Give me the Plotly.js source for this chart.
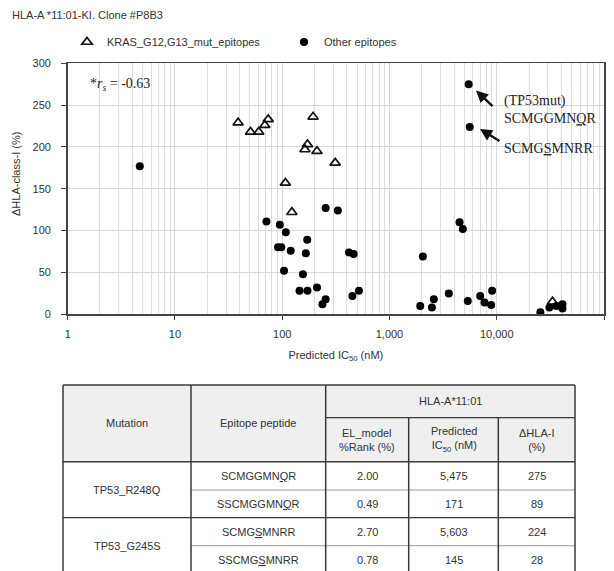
<!DOCTYPE html>
<html>
<head>
<meta charset="utf-8">
<script src="https://cdn.plot.ly/plotly-3.0.1.min.js"></script>
<style>html,body{margin:0;padding:0;background:#fff;}</style>
</head>
<body>
<div id="chart" style="width:614px;height:571px;"></div>
<script>
// ---------- DATA ----------
const krasIC50 = [38.8, 50.6, 60.4, 68.8, 74, 194, 172, 163, 211, 312, 107, 123, 33100];
const krasDelta = [229, 218, 218, 226, 233, 236, 203, 197, 195, 181, 157, 122, 15];

const otherIC50 = [4.7, 71.3, 95, 108, 91.4, 98, 120, 171, 166, 104, 156, 145, 172, 211, 254, 237,
  254, 330, 419, 463, 451, 519, 2047, 1936, 2484, 2590, 3575, 4500, 4830, 5475, 5603, 5370,
  7010, 7690, 9060, 8870, 25500, 31000, 36000, 41000, 41000];
const otherDelta = [177, 111, 107, 98, 80, 80, 76, 89, 73, 52, 48, 28, 28, 32, 18, 12,
  127, 124, 74, 72, 22, 28, 69, 10, 8, 18, 25, 110, 102, 275, 224, 16,
  22, 14, 28, 11, 2.4, 8, 10, 12, 7];

const xTickVals = [1, 10, 100, 1000, 10000, 100000];
const xTickText = ['1', '10', '100', '1,000', '10,000', '100,000'];
const yTickVals = [0, 50, 100, 150, 200, 250, 300];

const seriesNames = ['KRAS_G12,G13_mut_epitopes', 'Other epitopes'];

// table
const tableHeaders = ['Mutation', 'Epitope peptide', 'HLA-A*11:01'];
const subHeaders = ['EL_model<br>%Rank (%)', 'Predicted<br>IC<sub>50</sub> (nM)', '\u0394HLA-I<br>(%)'];
const mutations = ['TP53_R248Q', 'TP53_G245S'];
const peptides = ['SCMGGMN<u>Q</u>R', 'SSCMGGMN<u>Q</u>R', 'SCMG<u>S</u>MNRR', 'SSCMG<u>S</u>MNRR'];
const elRanks = [2.00, 0.49, 2.70, 0.78];
const tableIC50 = [5475, 171, 5603, 145];
const tableDelta = [275, 89, 224, 28];

// ---------- LAYOUT HELPERS ----------
const W = 614, H = 571;
const px = v => v / W;
const py = v => 1 - v / H;
const plotL = 67.7, plotR = 604, plotT = 63.3, plotB = 314.3;

const sans = 'Liberation Sans, Arial, sans-serif';
const serif = 'Liberation Serif, Times New Roman, serif';
const txt = '#333';

const traces = [
  {
    x: krasIC50, y: krasDelta, type: 'scatter', mode: 'markers', name: seriesNames[0],
    marker: {symbol: 'triangle-up-open', size: 9, color: '#111', line: {width: 1.7, color: '#111'}},
    cliponaxis: false
  },
  {
    x: otherIC50, y: otherDelta, type: 'scatter', mode: 'markers', name: seriesNames[1],
    marker: {symbol: 'circle', size: 8, color: '#000'},
    cliponaxis: false
  }
];

// minor grid values
const minorVals = [];
for (let d = 0; d < 5; d++) for (let k = 2; k <= 9; k++) minorVals.push(k * Math.pow(10, d));

const shapes = [];
const annotations = [];

// ---------- TABLE ----------
const colEdges = [63, 191, 325.7, 408.7, 498.3, 575];
const rowEdges = [385, 417.7, 461.7, 490, 517.7, 545.7, 573.5];
const dark = '#3a3a3a', light = '#9a9a9a';
function line(x0, y0, x1, y1, color, w) {
  shapes.push({type: 'line', xref: 'paper', yref: 'paper', x0: px(x0), y0: py(y0), x1: px(x1), y1: py(y1),
    line: {color: color, width: w}});
}
shapes.push({type: 'rect', xref: 'paper', yref: 'paper', x0: px(colEdges[0]), x1: px(colEdges[5]),
  y0: py(rowEdges[0]), y1: py(rowEdges[2]), fillcolor: '#efefef', line: {width: 0}, layer: 'below'});
// horizontal
line(colEdges[0], rowEdges[0], colEdges[5], rowEdges[0], dark, 1.5);
line(colEdges[2], rowEdges[1], colEdges[5], rowEdges[1], dark, 1.3);
line(colEdges[0], rowEdges[2], colEdges[5], rowEdges[2], dark, 1.5);
line(colEdges[1], rowEdges[3], colEdges[5], rowEdges[3], light, 1);
line(colEdges[0], rowEdges[4], colEdges[5], rowEdges[4], dark, 1.3);
line(colEdges[1], rowEdges[5], colEdges[5], rowEdges[5], light, 1);
// vertical
line(colEdges[0], rowEdges[0], colEdges[0], H + 5, dark, 1.5);
line(colEdges[1], rowEdges[0], colEdges[1], H + 5, dark, 1.5);
line(colEdges[2], rowEdges[0], colEdges[2], H + 5, dark, 1.5);
line(colEdges[3], rowEdges[1], colEdges[3], H + 5, dark, 1.5);
line(colEdges[4], rowEdges[1], colEdges[4], H + 5, dark, 1.5);
line(colEdges[5], rowEdges[0], colEdges[5], H + 5, dark, 1.5);

function cellText(text, cx, cy) {
  annotations.push({xref: 'paper', yref: 'paper', x: px(cx), y: py(cy), text: text, showarrow: false,
    xanchor: 'center', yanchor: 'middle', font: {family: sans, size: 11, color: txt}});
}
const mid = (a, b) => (a + b) / 2;
cellText(tableHeaders[0], mid(colEdges[0], colEdges[1]), mid(rowEdges[0], rowEdges[2]));
cellText(tableHeaders[1], mid(colEdges[1], colEdges[2]), mid(rowEdges[0], rowEdges[2]));
cellText(tableHeaders[2], mid(colEdges[2], colEdges[5]), mid(rowEdges[0], rowEdges[1]));
for (let j = 0; j < 3; j++) cellText(subHeaders[j], mid(colEdges[2 + j], colEdges[3 + j]), mid(rowEdges[1], rowEdges[2]));
for (let g = 0; g < mutations.length; g++) {
  cellText(mutations[g], mid(colEdges[0], colEdges[1]), mid(rowEdges[2 + 2 * g], rowEdges[4 + 2 * g]));
}
for (let i = 0; i < peptides.length; i++) {
  const cy = mid(rowEdges[2 + i], rowEdges[3 + i]);
  cellText(peptides[i], mid(colEdges[1], colEdges[2]), cy);
  cellText(elRanks[i].toFixed(2), mid(colEdges[2], colEdges[3]), cy);
  cellText(tableIC50[i].toLocaleString('en-US'), mid(colEdges[3], colEdges[4]), cy);
  cellText(String(tableDelta[i]), mid(colEdges[4], colEdges[5]), cy);
}

// ---------- CHART ANNOTATIONS ----------
annotations.push({xref: 'paper', yref: 'paper', x: px(88), y: py(84), xanchor: 'left', yanchor: 'middle',
  text: '*<i>r</i><sub><i>s</i></sub> = -0.63', showarrow: false, font: {family: serif, size: 14, color: '#222'}});
annotations.push({xref: 'paper', yref: 'paper', x: px(502), y: py(110), xanchor: 'left', yanchor: 'middle',
  text: '(TP53mut)<br>SCMGGMN<u>Q</u>R', showarrow: false, align: 'left',
  font: {family: serif, size: 14, color: '#222'}});
annotations.push({xref: 'paper', yref: 'paper', x: px(502), y: py(148), xanchor: 'left', yanchor: 'middle',
  text: 'SCMG<u>S</u>MNRR', showarrow: false, font: {family: serif, size: 14, color: '#222'}});
// arrows
annotations.push({xref: 'paper', yref: 'paper', x: px(476), y: py(90.5), ax: 18, ay: 17, text: '',
  showarrow: true, arrowhead: 2, arrowsize: 1, arrowwidth: 2.4, arrowcolor: '#111'});
annotations.push({xref: 'paper', yref: 'paper', x: px(480), y: py(129), ax: 21, ay: 13, text: '',
  showarrow: true, arrowhead: 2, arrowsize: 1, arrowwidth: 2.4, arrowcolor: '#111'});
// y title
annotations.push({xref: 'paper', yref: 'paper', x: px(16), y: py(174), xanchor: 'center', yanchor: 'middle',
  text: '\u0394HLA-class-I (%)', textangle: -90, showarrow: false, font: {family: sans, size: 11, color: txt}});

const layout = {
  width: W, height: H, autosize: false,
  margin: {l: 0, r: 0, t: 0, b: 0, pad: 0},
  paper_bgcolor: '#fff', plot_bgcolor: '#fff',
  font: {family: sans, size: 11, color: txt},
  title: {text: 'HLA-A *11:01-KI. Clone #P8B3', x: px(12), xanchor: 'left', y: py(15), yanchor: 'middle',
    font: {family: sans, size: 11, color: txt}},
  showlegend: true,
  legend: {orientation: 'h', x: px(67), xanchor: 'left', y: py(42), yanchor: 'middle',
    font: {family: sans, size: 11, color: txt}, bgcolor: 'rgba(0,0,0,0)', borderwidth: 0,
    itemwidth: 30, entrywidth: 172, tracegroupgap: 0},
  xaxis: {
    type: 'log', range: [0, 5], domain: [px(plotL), px(plotR)], anchor: 'y',
    tickvals: xTickVals, ticktext: xTickText, ticks: 'outside', ticklen: 4, tickcolor: '#444',
    showgrid: true, gridcolor: '#d6d6d6', gridwidth: 1,
    minor: {tickvals: minorVals, showgrid: true, gridcolor: '#dcdcdc', gridwidth: 1, ticks: ''},
    showline: true, linecolor: '#444', linewidth: 1.6, mirror: true, zeroline: false,
    ticklabelstandoff: 5, tickfont: {family: sans, size: 11, color: txt},
    title: {text: 'Predicted IC<sub>50</sub> (nM)', standoff: 12, font: {family: sans, size: 11, color: txt}}
  },
  yaxis: {
    range: [0, 300], domain: [py(plotB), py(plotT)], anchor: 'x',
    tickvals: yTickVals, ticks: 'outside', ticklen: 5, tickcolor: '#444',
    showgrid: true, gridcolor: '#d6d6d6', gridwidth: 1,
    showline: true, linecolor: '#444', linewidth: 1.6, mirror: true, zeroline: false,
    ticklabelstandoff: 8, tickfont: {family: sans, size: 11, color: txt}
  },
  shapes: shapes,
  annotations: annotations
};

Plotly.newPlot('chart', traces, layout, {displayModeBar: false, staticPlot: true});
</script>
</body>
</html>
